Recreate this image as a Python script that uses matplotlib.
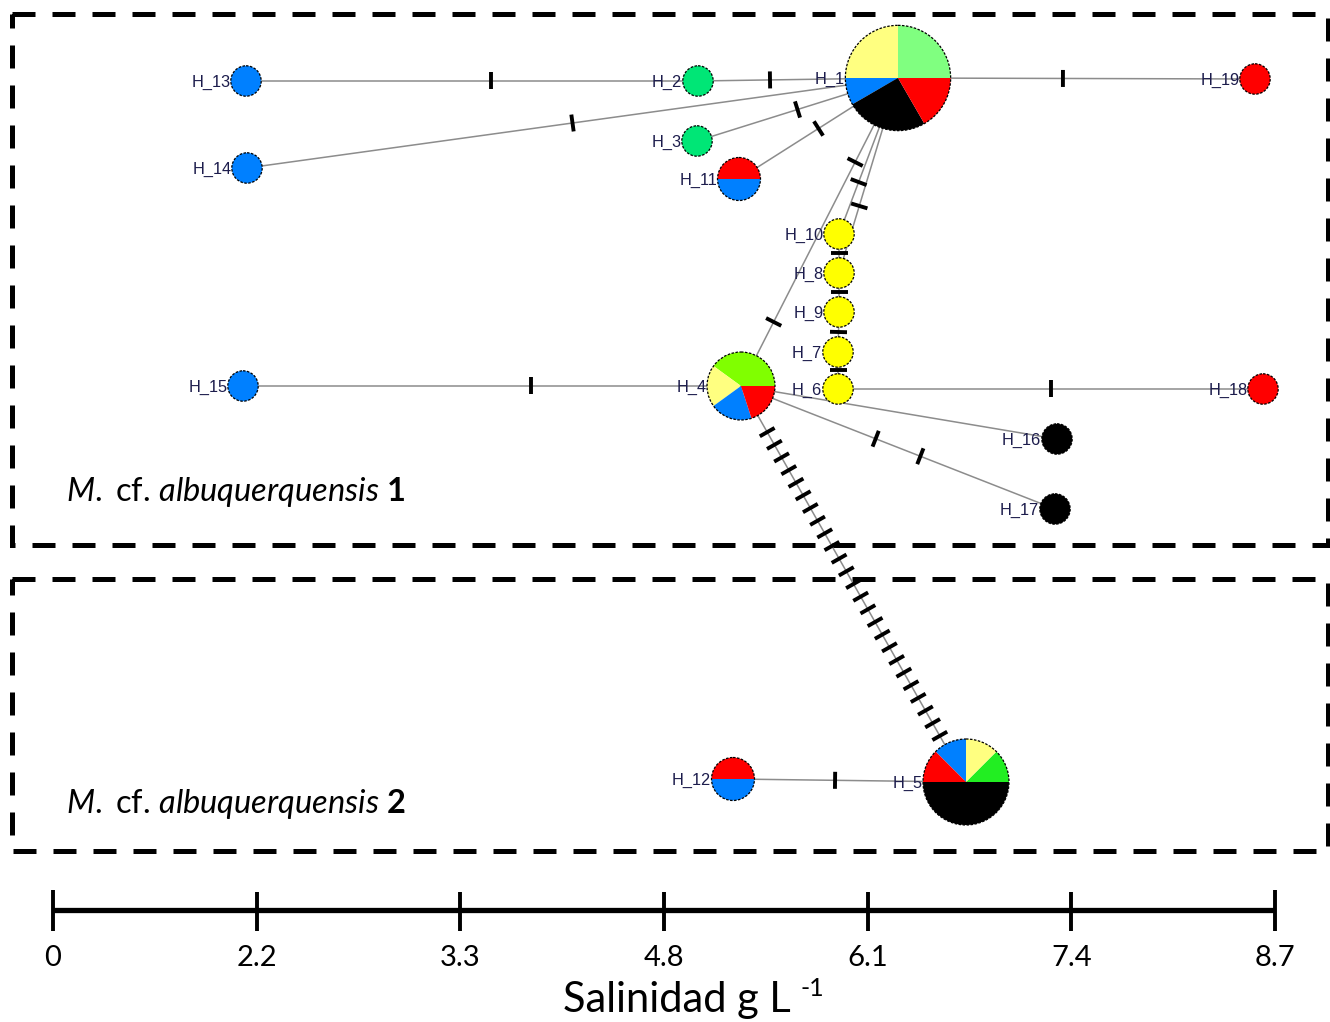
import matplotlib
matplotlib.use("Agg")
import matplotlib.pyplot as plt
from matplotlib.patches import Wedge, Circle, Rectangle
import numpy as np

# ---------------- data ----------------
# trait colours (sampling groups)
trait_colors = {
    "verde_claro": "#80FF80",
    "amarillo_claro": "#FFFF80",
    "azul": "#0080FF",
    "negro": "#000000",
    "rojo": "#FF0000",
    "verde_lima": "#80FF00",
    "verde": "#22EE22",
    "menta": "#00E676",
    "amarillo": "#FFFF00",
}

hap_names = ["H_1", "H_2", "H_3", "H_4", "H_5", "H_6", "H_7", "H_8", "H_9", "H_10",
             "H_11", "H_12", "H_13", "H_14", "H_15", "H_16", "H_17", "H_18", "H_19"]

# frequencies per haplotype, listed counter-clockwise from 3 o'clock
hap_freqs = [
    [("verde_claro", 3), ("amarillo_claro", 3), ("azul", 1), ("negro", 3), ("rojo", 2)],  # H_1
    [("menta", 1)],                                                                        # H_2
    [("menta", 1)],                                                                        # H_3
    [("verde_lima", 2), ("amarillo_claro", 1), ("azul", 1), ("rojo", 1)],                  # H_4
    [("verde", 1), ("amarillo_claro", 1), ("azul", 1), ("rojo", 1), ("negro", 4)],         # H_5
    [("amarillo", 1)],                                                                     # H_6
    [("amarillo", 1)],                                                                     # H_7
    [("amarillo", 1)],                                                                     # H_8
    [("amarillo", 1)],                                                                     # H_9
    [("amarillo", 1)],                                                                     # H_10
    [("rojo", 1), ("azul", 1)],                                                            # H_11
    [("rojo", 1), ("azul", 1)],                                                            # H_12
    [("azul", 1)],                                                                         # H_13
    [("azul", 1)],                                                                         # H_14
    [("azul", 1)],                                                                         # H_15
    [("negro", 1)],                                                                        # H_16
    [("negro", 1)],                                                                        # H_17
    [("rojo", 1)],                                                                         # H_18
    [("rojo", 1)],                                                                         # H_19
]

# network edges: (haplotype a, haplotype b, mutation marks)
edges = [
    ("H_13", "H_2", 1), ("H_2", "H_1", 1), ("H_14", "H_1", 1), ("H_3", "H_1", 1),
    ("H_11", "H_1", 1), ("H_1", "H_19", 1), ("H_1", "H_4", 2), ("H_1", "H_10", 1),
    ("H_1", "H_8", 1),
    ("H_10", "H_8", 1), ("H_8", "H_9", 1), ("H_9", "H_7", 1), ("H_7", "H_6", 1),
    ("H_6", "H_18", 1), ("H_15", "H_4", 1), ("H_4", "H_16", 0), ("H_4", "H_17", 2),
    ("H_4", "H_5", 25), ("H_12", "H_5", 1),
]

salinity_labels = ["0", "2.2", "3.3", "4.8", "6.1", "7.4", "8.7"]

# ---------------- layout (canvas units, y downward) ----------------
node_xy = {
    "H_1": (898, 78), "H_2": (698, 81), "H_3": (697, 141), "H_4": (741, 386),
    "H_5": (966, 782), "H_6": (838, 389), "H_7": (838, 352), "H_8": (839, 273),
    "H_9": (839, 312), "H_10": (839, 234), "H_11": (739, 179), "H_12": (733, 779),
    "H_13": (246, 81), "H_14": (247, 168), "H_15": (243, 386), "H_16": (1057, 439),
    "H_17": (1055, 509), "H_18": (1263, 389), "H_19": (1255, 79),
}
# explicit mark placement along some edges (fraction of centre-to-centre distance)
tick_pos = {
    ("H_13", "H_2"): [0.542], ("H_2", "H_1"): [0.36], ("H_1", "H_19"): [0.462],
    ("H_15", "H_4"): [0.578], ("H_12", "H_5"): [0.438], ("H_1", "H_4"): [0.273, 0.792],
    ("H_1", "H_10"): [0.667], ("H_1", "H_8"): [0.656],
}

W, H = 1330, 1022
R0 = 15.2
TICK_LEN = 17
TICK_LW = 2.8

fig = plt.figure(figsize=(W / 100, H / 100), dpi=100)
ax = fig.add_axes([0, 0, 1, 1])
ax.set_xlim(0, W)
ax.set_ylim(H, 0)
ax.axis("off")

radius = {n: R0 * np.sqrt(sum(c for _, c in f)) for n, f in zip(hap_names, hap_freqs)}

# edges and mutation marks
for a, b, n in edges:
    (x1, y1), (x2, y2) = node_xy[a], node_xy[b]
    ax.plot([x1, x2], [y1, y2], color="#8c8c8c", lw=1.1, zorder=1)
    if n == 0:
        continue
    d = np.hypot(x2 - x1, y2 - y1)
    ux, uy = (x2 - x1) / d, (y2 - y1) / d
    px, py = -uy, ux
    if (a, b) in tick_pos:
        positions = [f * d for f in tick_pos[(a, b)]]
    else:
        free = d - radius[a] - radius[b]
        step = min(48.0, free / (n + 1))
        c = d / 2
        positions = [c + (k - (n - 1) / 2) * step for k in range(n)]
    for s in positions:
        cx, cy = x1 + ux * s, y1 + uy * s
        ax.plot([cx - px * TICK_LEN / 2, cx + px * TICK_LEN / 2],
                [cy - py * TICK_LEN / 2, cy + py * TICK_LEN / 2],
                color="black", lw=TICK_LW, solid_capstyle="butt", zorder=2)

# haplotype pies
for name, freqs in zip(hap_names, hap_freqs):
    x, y = node_xy[name]
    r = radius[name]
    total = sum(c for _, c in freqs)
    ang = 0.0
    for trait, cnt in freqs:
        span = 360.0 * cnt / total
        # y axis is inverted, so counter-clockwise on screen means negative angles
        ax.add_patch(Wedge((x, y), r, -(ang + span), -ang, facecolor=trait_colors[trait],
                           edgecolor="none", zorder=3))
        ang += span
    ax.add_patch(Circle((x, y), r, facecolor="none", edgecolor="black", lw=0.9,
                        linestyle=(0, (2.0, 1.2)), zorder=4))
    ax.text(x - r - 0.5, y + 1, name, ha="right", va="center", fontsize=11.8,
            family="Liberation Sans", color="#1c1c4c", zorder=5)

# group boxes
for (x0, y0, x1, y1) in [(12, 14, 1328, 545), (12, 579, 1328, 851)]:
    ax.add_patch(Rectangle((x0, y0), x1 - x0, y1 - y0, fill=False, edgecolor="black",
                           lw=3.6, linestyle=(0, (4.6, 3.4)), zorder=0))

plt.rcParams["mathtext.fontset"] = "custom"
plt.rcParams["mathtext.rm"] = "Lato"
plt.rcParams["mathtext.it"] = "Lato:italic"
plt.rcParams["mathtext.bf"] = "Lato:bold"

for ypos, grp in [(492, "1"), (804, "2")]:
    ax.text(66, ypos, r"$\it{M.}$ cf. $\it{albuquerquensis}$ $\bf{" + grp + "}$",
            fontsize=23.5, family="Lato", va="center", ha="left")

# salinity scale bar
xs = np.linspace(53, 1275, len(salinity_labels))
ax.plot([xs[0], xs[-1]], [910, 910], color="black", lw=3.8, solid_capstyle="butt")
for i, (xx, lab) in enumerate(zip(xs, salinity_labels)):
    top, bot = (890, 931) if i in (0, len(xs) - 1) else (892, 931)
    ax.plot([xx, xx], [top, bot], color="black", lw=2.8, solid_capstyle="butt")
    ax.text(xx, 958, lab, ha="center", va="center", fontsize=21, family="Lato")

t = ax.text(563, 1000, "Salinidad g L", ha="left", va="center", fontsize=30, family="Lato")
fig.canvas.draw()
bb = t.get_window_extent()
inv = ax.transData.inverted()
xr, _ = inv.transform((bb.x1, bb.y0))
ax.text(xr + 10, 988, "-1", ha="left", va="center", fontsize=18, family="Lato")

fig.savefig("out.png", dpi=100)
